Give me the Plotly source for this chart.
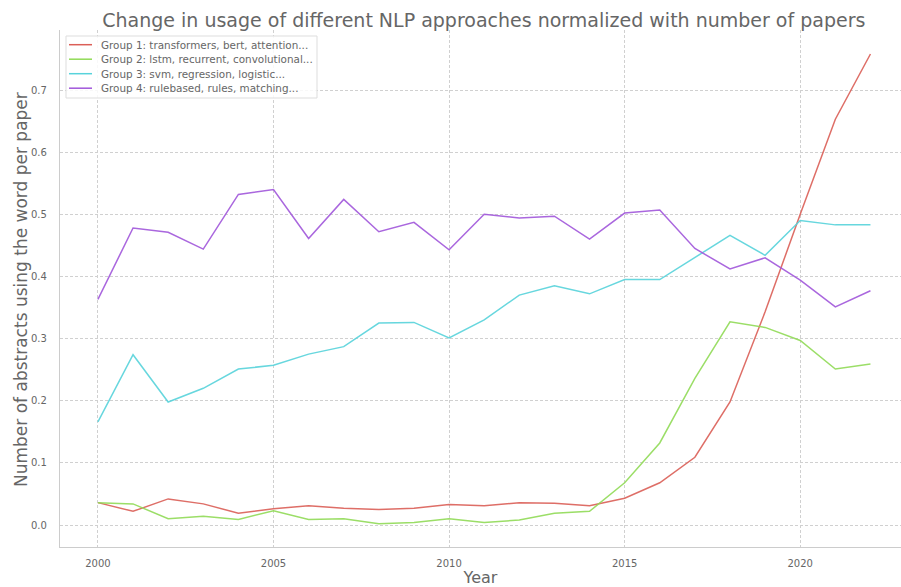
import plotly.graph_objects as go

years = list(range(2000, 2023))

group1 = [0.036, 0.022, 0.042, 0.034, 0.019, 0.026, 0.031, 0.027, 0.025, 0.027,
          0.033, 0.031, 0.036, 0.035, 0.031, 0.043, 0.068, 0.109, 0.198, 0.343,
          0.500, 0.653, 0.758]
group2 = [0.036, 0.034, 0.010, 0.014, 0.009, 0.023, 0.009, 0.010, 0.002, 0.004,
          0.010, 0.004, 0.008, 0.019, 0.022, 0.068, 0.132, 0.236, 0.327, 0.318,
          0.297, 0.251, 0.259]
group3 = [0.166, 0.274, 0.198, 0.220, 0.251, 0.257, 0.275, 0.287, 0.325, 0.326,
          0.301, 0.330, 0.370, 0.385, 0.372, 0.395, 0.395, 0.430, 0.466, 0.434,
          0.490, 0.483, 0.483]
group4 = [0.363, 0.478, 0.471, 0.444, 0.532, 0.540, 0.461, 0.524, 0.472, 0.487,
          0.443, 0.500, 0.494, 0.497, 0.460, 0.502, 0.507, 0.445, 0.412, 0.430,
          0.394, 0.351, 0.377]

names = [
    "Group 1: transformers, bert, attention...",
    "Group 2: lstm, recurrent, convolutional...",
    "Group 3: svm, regression, logistic...",
    "Group 4: rulebased, rules, matching...",
]
colors = ["#db5f57", "#91db57", "#57d3db", "#a157db"]

x_ticks = [2000, 2005, 2010, 2015, 2020]
y_ticks = [0.0, 0.1, 0.2, 0.3, 0.4, 0.5, 0.6, 0.7]
y_tick_labels = ["0.0", "0.1", "0.2", "0.3", "0.4", "0.5", "0.6", "0.7"]

FONT = "DejaVu Sans"
GRAY = "#666666"
GRID = "#d0d0d0"

W, H = 901, 587
M = dict(l=60, r=0, t=30, b=40)
PW = W - M["l"] - M["r"]
PH = H - M["t"] - M["b"]


def px_x(px):
    """Pixel column -> paper x fraction of the plot area."""
    return (px - M["l"]) / PW


def px_y(py):
    """Pixel row -> paper y fraction of the plot area."""
    return (H - M["b"] - py) / PH


fig = go.Figure()
for series, name, color in zip([group1, group2, group3, group4], names, colors):
    fig.add_trace(go.Scatter(
        x=years, y=series, mode="lines", name=name, opacity=0.9,
        line=dict(color=color, width=1.5), showlegend=False,
    ))

# compact legend box in the upper-left corner
shapes = [dict(
    type="rect", xref="paper", yref="paper",
    x0=px_x(66), x1=px_x(317), y0=px_y(98), y1=px_y(36),
    line=dict(color="#dddddd", width=1), fillcolor="rgba(255,255,255,0.85)",
    layer="above",
)]
annotations = []
row_y = [44.7, 59.2, 73.7, 88.2]
for ry, name, color in zip(row_y, names, colors):
    shapes.append(dict(
        type="line", xref="paper", yref="paper",
        x0=px_x(69), x1=px_x(92), y0=px_y(ry), y1=px_y(ry),
        line=dict(color=color, width=1.5), layer="above",
    ))
    annotations.append(dict(
        xref="paper", yref="paper", x=px_x(99), y=px_y(ry),
        xanchor="left", yanchor="middle", showarrow=False, text=name,
        font=dict(family=FONT, size=10.4, color=GRAY),
    ))

# y-axis title placed as rotated text beside the tick labels
annotations.append(dict(
    xref="paper", yref="paper", x=px_x(21), y=px_y(290),
    xanchor="center", yanchor="middle", showarrow=False, textangle=-90,
    text="Number of abstracts using the word per paper",
    font=dict(family=FONT, size=17, color=GRAY),
))

fig.update_layout(
    width=W, height=H,
    margin=M,
    paper_bgcolor="white", plot_bgcolor="white",
    font=dict(family=FONT, color=GRAY, size=10),
    showlegend=False,
    shapes=shapes,
    annotations=annotations,
    title=dict(
        text="Change in usage of different NLP approaches normalized with number of papers",
        x=0.537, xanchor="center", y=0.966, yanchor="middle",
        font=dict(family=FONT, size=19, color=GRAY),
    ),
    xaxis=dict(
        range=[1998.92, 2022.87],
        tickvals=x_ticks, ticktext=[str(v) for v in x_ticks],
        showgrid=True, gridcolor=GRID, griddash="3px,2px", gridwidth=1,
        showline=True, linecolor="#cccccc", linewidth=1.2,
        zeroline=False, ticks="", ticklabelstandoff=7,
        tickfont=dict(family=FONT, size=10, color=GRAY),
        title=dict(text="Year", font=dict(family=FONT, size=16, color=GRAY), standoff=4),
    ),
    yaxis=dict(
        range=[-0.0354, 0.7966],
        tickvals=y_ticks, ticktext=y_tick_labels,
        showgrid=True, gridcolor=GRID, griddash="3px,2px", gridwidth=1,
        showline=True, linecolor="#cccccc", linewidth=1.2,
        zeroline=False, ticks="", ticklabelstandoff=10,
        tickfont=dict(family=FONT, size=10, color=GRAY),
    ),
)

fig.write_html("out.html")
